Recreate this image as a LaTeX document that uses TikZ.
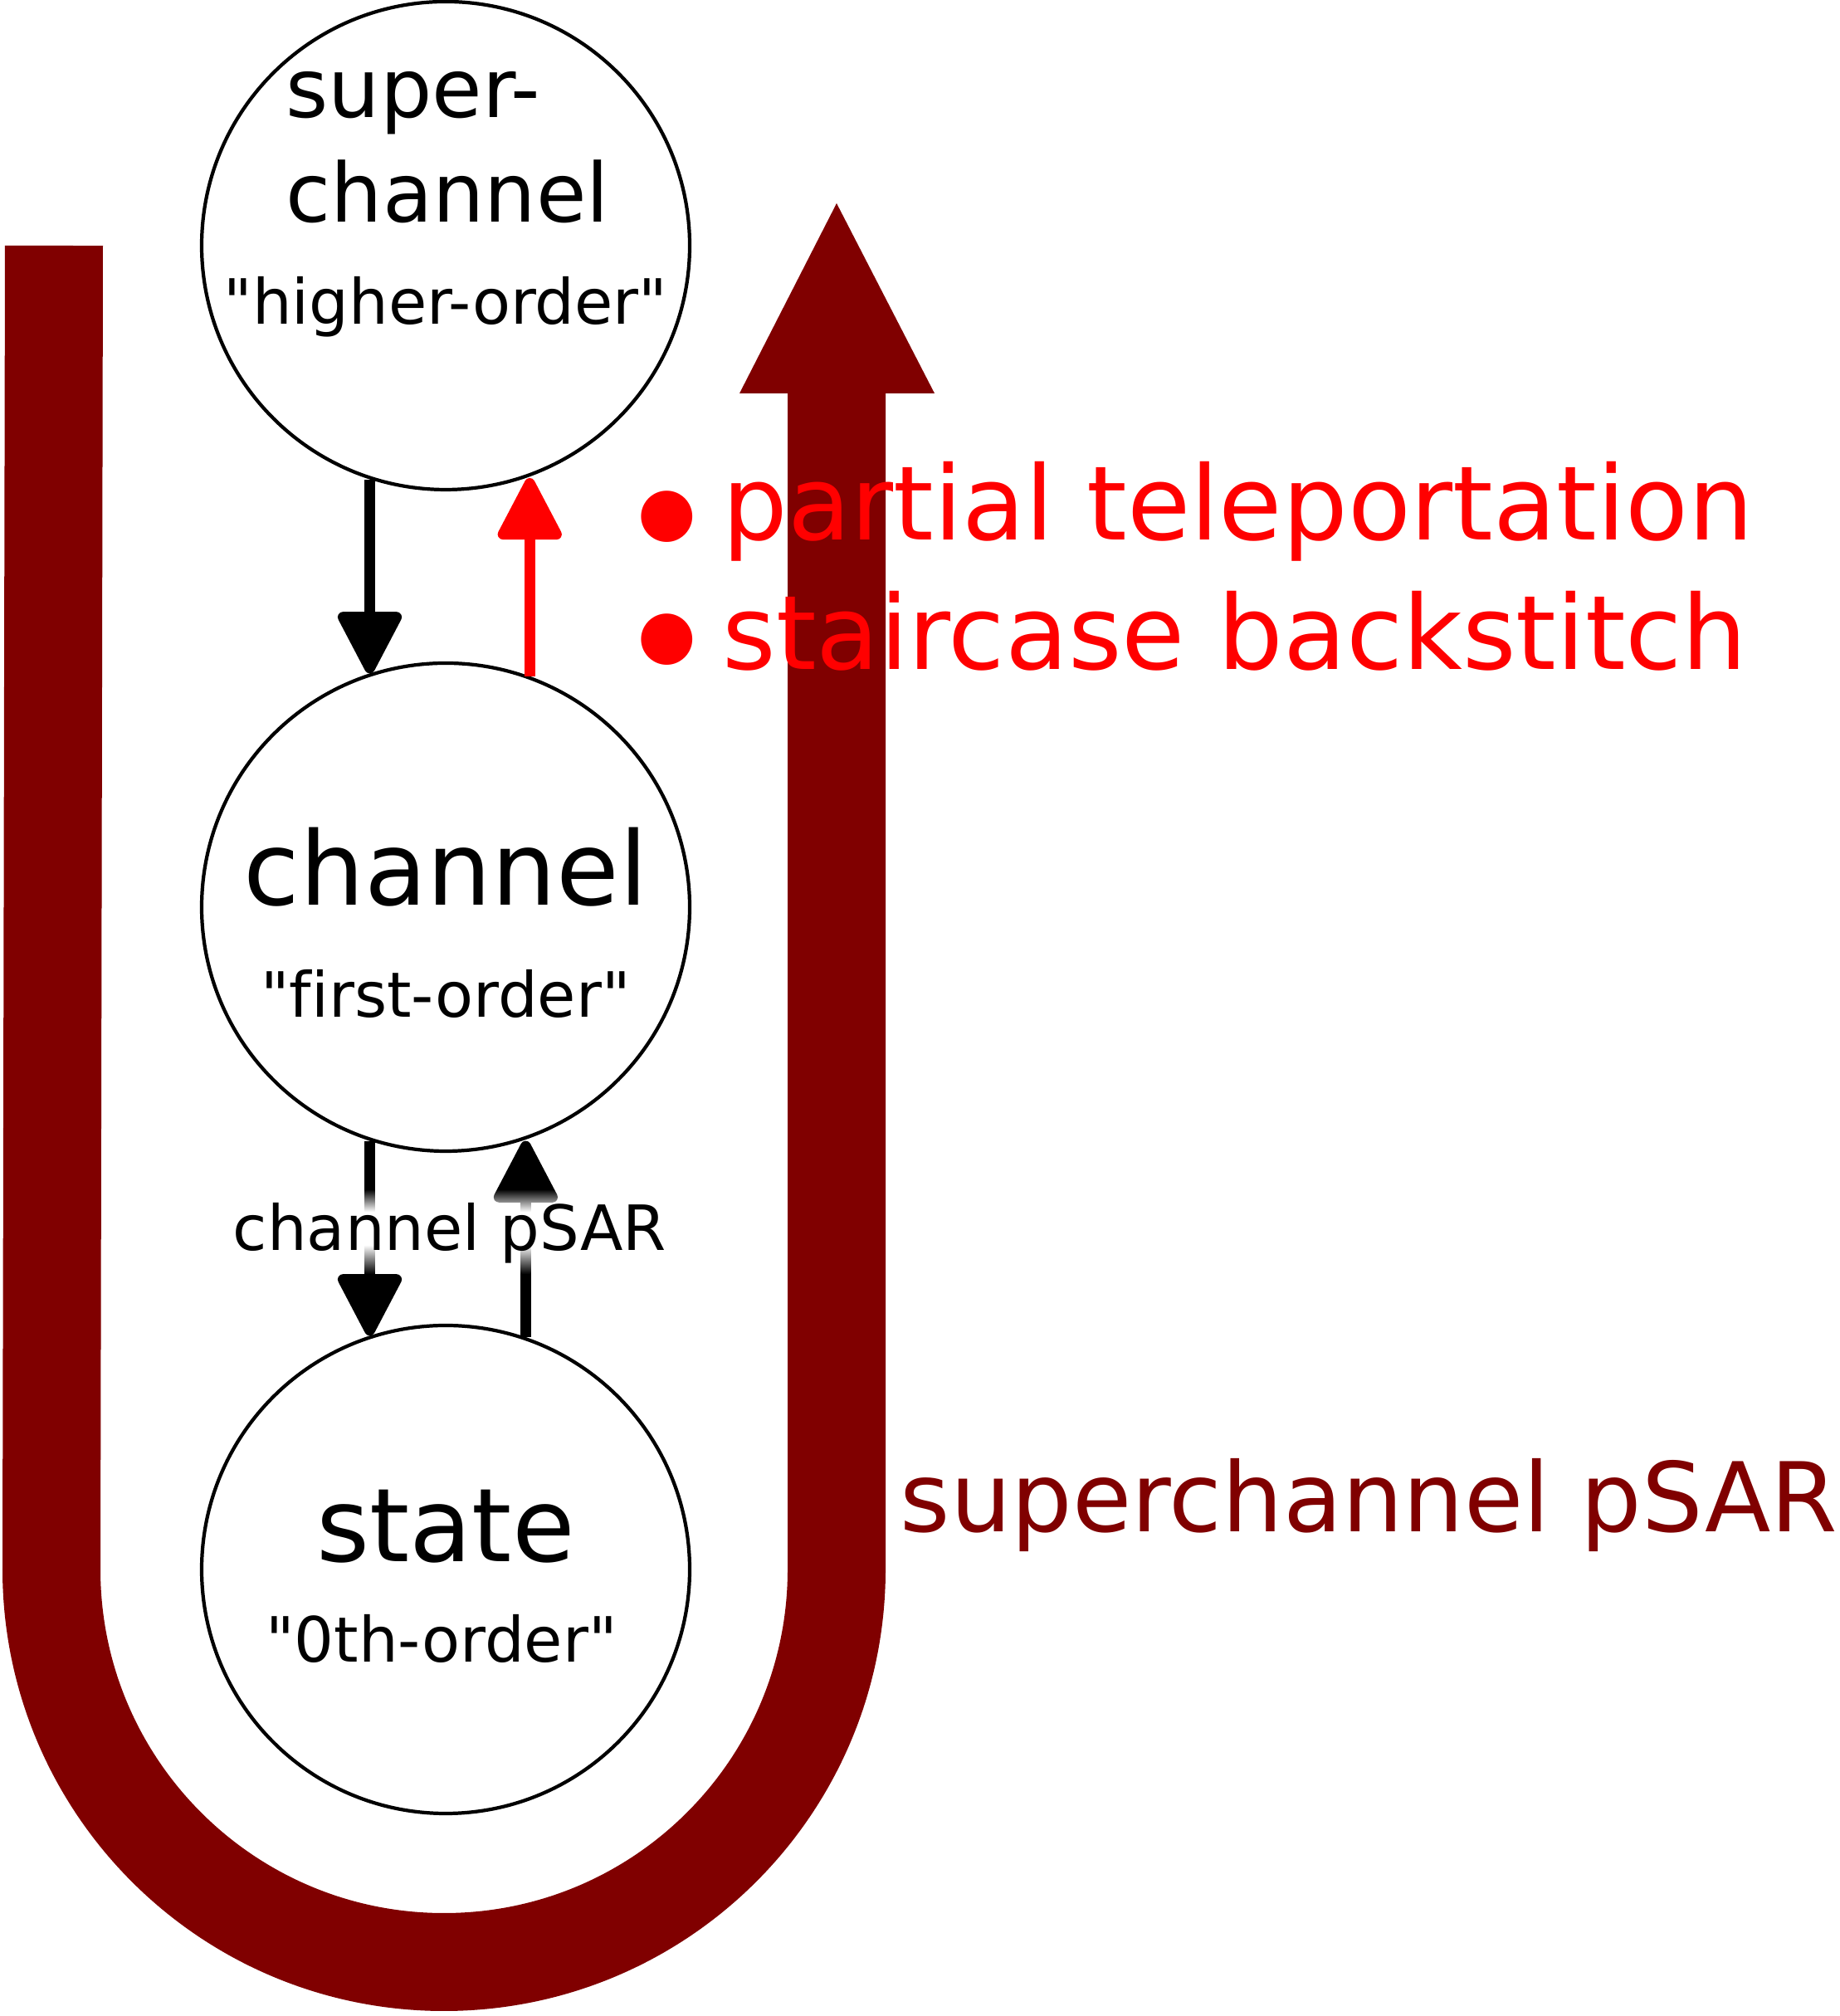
\documentclass[tikz,border=0pt]{standalone}
\usepackage{fontspec}
\setmainfont{DejaVu Sans}[Ligatures={TeXOff,CommonOff}]
\usetikzlibrary{calc, arrows.meta, fadings}
\definecolor{darkred}{HTML}{800000}

\begin{document}
\begin{tikzpicture}[
    orderball/.style={circle, draw=black, line width=1.2pt, fill=white, minimum size=5.88cm, inner sep=0pt},
    bigword/.style={anchor=base, inner sep=0pt, font=\fontsize{35}{42}\selectfont},
    midword/.style={anchor=base west, inner sep=0pt, font=\fontsize{28}{34}\selectfont},
    orderword/.style={anchor=base, inner sep=0pt, font=\fontsize{21.4}{26}\selectfont},
    redword/.style={anchor=base west, inner sep=0pt, text=red, font=\fontsize{35.3}{42}\selectfont},
    bulletdot/.style={anchor=center, inner sep=0pt, text=red, font=\fontsize{23}{28}\selectfont},
    stepline/.style={line width=3.6pt, -{Triangle[length=8.2mm, width=8.2mm, round]}}
]
\useasboundingbox (0,0) rectangle (22.16,24.29);

% Big U-turn band (drawn first, stays behind the text)
\draw[line width=1.18cm, darkred] (0.65,21.33) -- (0.62,5.38)
    arc[start angle=180, end angle=360, radius=4.73] -- (10.08,19.56);
\fill[darkred] (8.91,19.55) -- (11.26,19.55) -- (10.08,21.84) -- cycle;

% The three orders
\node[orderball] (sc) at (5.37,21.33) {};
\node[orderball] (ch) at (5.37,13.36) {};
\node[orderball] (st) at (5.37,5.38) {};

\node[midword] (scA) at ($(sc)+(-1.93,1.54)$) {super-};
\node[midword] (scB) at ($(sc)+(-1.93,0.28)$) {channel};
\node[orderword] (scC) at ($(sc)+(0,-0.95)$) {"higher-order"};
\node[bigword] (chA) at ($(ch)+(0,0.02)$) {channel};
\node[orderword] (chB) at ($(ch)+(0,-1.33)$) {"first-order"};
\node[bigword] (stA) at ($(st)+(0,0.09)$) {state};
\node[orderword] (stB) at ($(st)+(-0.05,-1.12)$) {"0th-order"};

% Steps between the orders
\draw[stepline] (sc.252) -- (sc.252 |- ch.108);
\draw[stepline, red] (ch.70.32) -- (ch.70.32 |- sc.289.68);
\draw[stepline] (ch.252) -- (ch.252 |- st.108);
\draw[stepline] (st.71.56) -- (st.71.56 |- ch.288.44);

% Soft white patch under the lower label
\fill[white] (2.8,9.29) rectangle (8.05,9.69);
\fill[white, path fading=north] (2.8,9.69) rectangle (8.05,9.96);
\fill[white, path fading=south] (2.8,8.94) rectangle (8.05,9.29);
\node[orderword] (cpsar) at (5.42,9.22) {channel pSAR};

% Red list and the band label
\node[bulletdot] (dotA) at (8.04,18.06) {●};
\node[bulletdot] (dotB) at (8.04,16.58) {●};
\node[redword] (tp) at (8.70,17.78) {partial teleportation};
\node[redword] (sb) at (8.70,16.22) {staircase backstitch};
\node[anchor=base west, inner sep=0pt, text=darkred, font=\fontsize{33}{40}\selectfont]
    (spsar) at (10.84,5.83) {superchannel pSAR};
\end{tikzpicture}
\end{document}
